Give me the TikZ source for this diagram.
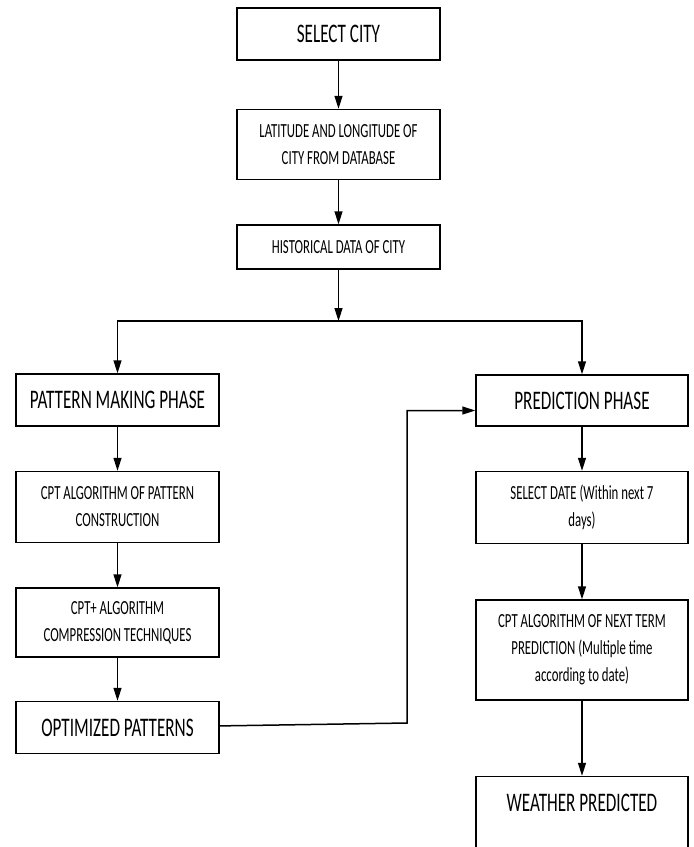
\documentclass[tikz,border=0pt]{standalone}
\usepackage{fontspec}
\setmainfont{Carlito}[FakeStretch=0.64]
\usepackage{tikz}
\usetikzlibrary{arrows.meta,positioning}
\tikzset{
  flowbig/.style={rectangle,draw=black,line width=0.75pt,inner sep=3pt,
    minimum width=101.5pt,minimum height=26pt,align=center,font=\fontsize{13.4}{15}\selectfont},
  flowsmall/.style={rectangle,draw=black,line width=0.75pt,inner sep=3pt,
    minimum width=101.5pt,minimum height=22pt,align=center,font=\fontsize{10}{13.5}\selectfont},
  arrow/.style={-{Triangle[length=6.5pt,width=4pt]},line width=0.75pt}
}
\begin{document}
\begin{tikzpicture}[x=0.5pt,y=-0.5pt,node distance=22pt]
  \useasboundingbox (0,0) rectangle (694,847);
  \clip (0,0) rectangle (694,847);
  \node[flowbig] (city) at (338.5,34) {SELECT CITY};
  \node[flowsmall, below=24pt of city, minimum height=35pt] (latlon) {LATITUDE AND LONGITUDE OF\\CITY FROM DATABASE};
  \node[flowsmall, below=of latlon] (hist) {HISTORICAL DATA OF CITY};
  \coordinate (split) at (338.5,321);
  \node[flowbig] (pattern) at (117.5,400) {PATTERN MAKING PHASE};
  \node[flowsmall, below=of pattern, minimum height=35.5pt] (cpt) {CPT ALGORITHM OF PATTERN\\CONSTRUCTION};
  \node[flowsmall, below=of cpt, minimum height=34.5pt] (cptplus) {CPT+ ALGORITHM\\COMPRESSION TECHNIQUES};
  \node[flowbig, below=21.5pt of cptplus] (optim) {OPTIMIZED PATTERNS};
  \node[flowbig, minimum width=106pt, minimum height=25.5pt] (predict) at (582,400.5) {PREDICTION PHASE};
  \node[flowsmall, below=of predict, minimum width=106pt, minimum height=36pt] (date) {SELECT DATE (Within next 7\\days)};
  \node[flowsmall, below=27.5pt of date, minimum width=106pt, minimum height=50pt] (cptnext) {CPT ALGORITHM OF NEXT TERM\\PREDICTION (Multiple time\\according to date)};
  \node[flowbig, below=37.5pt of cptnext, minimum width=106pt, text height=14.25pt, text depth=34pt] (weather) {WEATHER PREDICTED};
  \coordinate (bend) at (407,723);
  \draw[arrow] (city) -- (latlon);
  \draw[arrow] (latlon) -- (hist);
  \draw[arrow] (hist) -- (split);
  \draw[arrow] (split) -| (pattern);
  \draw[arrow] (split) -| (predict);
  \draw[arrow] (pattern) -- (cpt);
  \draw[arrow] (cpt) -- (cptplus);
  \draw[arrow] (cptplus) -- (optim);
  \draw[arrow] (predict) -- (date);
  \draw[arrow] (date) -- (cptnext);
  \draw[arrow] (cptnext) -- (weather);
  \draw[arrow] (optim) -- (bend) |- ([yshift=-5pt]predict.west);
\end{tikzpicture}
\end{document}
